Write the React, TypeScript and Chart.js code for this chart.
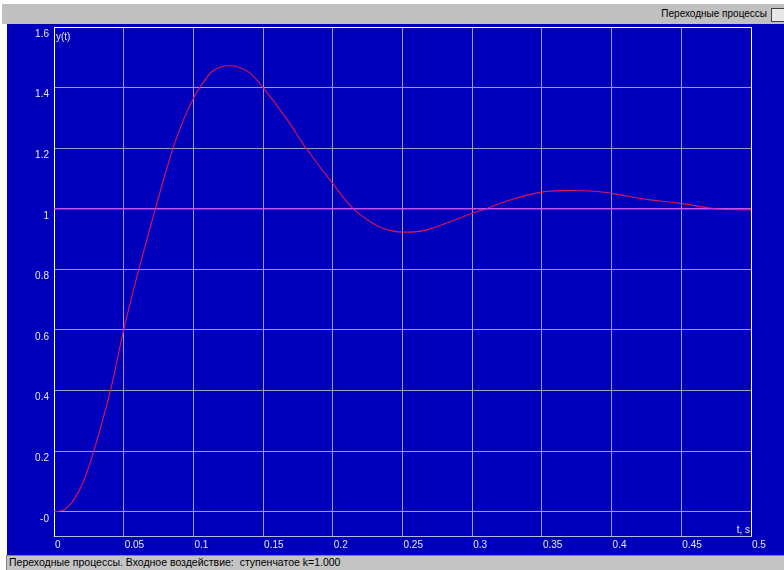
import React, { useEffect, useRef } from "react";
import { Chart, registerables } from "chart.js";

Chart.register(...registerables);

// Transient response y(t)
const tValues = [0, 0.005, 0.01, 0.015, 0.0214, 0.0285, 0.035, 0.041, 0.05, 0.06, 0.0727, 0.0854, 0.0935, 0.1006, 0.1075, 0.1133, 0.12, 0.1264, 0.132, 0.14, 0.15, 0.167, 0.181, 0.2, 0.2148, 0.2315, 0.2425, 0.2525, 0.265, 0.284, 0.3, 0.31, 0.325, 0.35, 0.368, 0.387, 0.4, 0.425, 0.45, 0.475, 0.5];
const yValues = [0, 0.003, 0.016, 0.045, 0.103, 0.2, 0.305, 0.41, 0.6, 0.785, 1.0, 1.2, 1.3, 1.37, 1.42, 1.453, 1.469, 1.472, 1.468, 1.45, 1.4, 1.296, 1.199, 1.083, 1.0, 0.945, 0.927, 0.923, 0.928, 0.957, 0.985, 1.0, 1.026, 1.055, 1.06, 1.058, 1.051, 1.031, 1.018, 1.0, 0.996];

// Reference (input step) level
const refT = [0, 0.5];
const refY = [1, 1];

const xTicks = [0, 0.05, 0.1, 0.15, 0.2, 0.25, 0.3, 0.35, 0.4, 0.45, 0.5];
const xTickLabels = ["0", "0.05", "0.1", "0.15", "0.2", "0.25", "0.3", "0.35", "0.4", "0.45", "0.5"];
const yTicks = [0, 0.2, 0.4, 0.6, 0.8, 1, 1.2, 1.4, 1.6];
const yTickLabels = ["-0", "0.2", "0.4", "0.6", "0.8", "1", "1.2", "1.4", "1.6"];

const headerTitle = "Переходные процессы";
const statusText = "Переходные процессы. Входное воздействие:  ступенчатое k=1.000";
const yAxisTitle = "y(t)";
const xAxisTitle = "t, s";

const BLUE = "#0000bc";
const GRID = "#9c9cd0";
const FONT = "10px 'Liberation Sans', Arial, sans-serif";

const labelPlugin = {
  id: "labels",
  afterDraw(chart: any) {
    const ctx = chart.ctx;
    const xs = chart.scales.x;
    const ys = chart.scales.y;
    const area = chart.chartArea;
    ctx.save();
    ctx.font = FONT;
    ctx.fillStyle = "#e8e8f0";
    ctx.textAlign = "right";
    ctx.textBaseline = "top";
    yTicks.forEach((v, i) => {
      const py = ys.getPixelForValue(v);
      ctx.fillText(yTickLabels[i], area.left - 5, py + 2);
    });
    ctx.textAlign = "left";
    xTicks.forEach((v, i) => {
      const px = xs.getPixelForValue(v);
      ctx.fillText(xTickLabels[i], px + 1, area.bottom + 4);
    });
    ctx.textAlign = "right";
    ctx.textBaseline = "bottom";
    ctx.fillText(xAxisTitle, area.right - 1, area.bottom - 1);
    ctx.textAlign = "left";
    ctx.textBaseline = "top";
    ctx.fillText(yAxisTitle, area.left + 2, area.top + 5);
    ctx.restore();
  },
};

export default function App() {
  const ref = useRef<HTMLCanvasElement | null>(null);

  useEffect(() => {
    if (!ref.current) return;
    const chart = new Chart(ref.current, {
      type: "line",
      data: {
        datasets: [
          {
            data: refT.map((t, i) => ({ x: t, y: refY[i] })),
            borderColor: "#c83cff",
            borderWidth: 1.2,
            pointRadius: 0,
            order: 0,
          },
          {
            data: tValues.map((t, i) => ({ x: t, y: yValues[i] })),
            borderColor: "#e01450",
            borderWidth: 1.1,
            pointRadius: 0,
            tension: 0.4,
            order: 1,
          },
        ],
      },
      options: {
        animation: false,
        responsive: false,
        devicePixelRatio: 1,
        layout: { padding: { left: 0, top: 3, right: 33, bottom: 0 } },
        plugins: { legend: { display: false }, tooltip: { enabled: false } },
        scales: {
          x: {
            type: "linear",
            min: 0,
            max: 0.5,
            afterBuildTicks: (s: any) => {
              s.ticks = xTicks.map((v) => ({ value: v }));
            },
            afterFit: (s: any) => {
              s.height = 19;
            },
            ticks: { display: false },
            grid: {
              drawTicks: false,
              tickLength: 0,
              color: (c: any) => (c.tick && (c.tick.value === 0 || c.tick.value === 0.5) ? "#ffffff" : GRID),
              lineWidth: 1,
            },
            border: { display: true, color: "#b8b8dc", width: 1 },
          },
          y: {
            type: "linear",
            min: -0.08,
            max: 1.6,
            afterBuildTicks: (s: any) => {
              s.ticks = yTicks.map((v) => ({ value: v }));
            },
            afterFit: (s: any) => {
              s.width = 47;
            },
            ticks: { display: false },
            grid: {
              drawTicks: false,
              tickLength: 0,
              color: (c: any) => (c.tick && c.tick.value === 1.6 ? "#ffffff" : GRID),
              lineWidth: 1,
            },
            border: { display: true, color: "#ffffff", width: 1 },
          },
        },
      },
      plugins: [labelPlugin],
    } as any);
    return () => chart.destroy();
  }, []);

  return (
    <div style={{ position: "fixed", left: 0, top: 0, width: 784, height: 570, background: "#ffffff", overflow: "hidden", fontFamily: "'Liberation Sans', Arial, sans-serif" }}>
      <div style={{ position: "absolute", left: 2, top: 4, width: 782, height: 20, background: "#c0c0c0" }}>
        <div style={{ position: "absolute", right: 17, top: 4, fontSize: 10, color: "#000", whiteSpace: "nowrap" }}>{headerTitle}</div>
        <div style={{ position: "absolute", left: 769, top: 4, width: 16, height: 14, background: "#e8e8e8", border: "1px solid #404040", boxSizing: "border-box" }} />
      </div>
      <div style={{ position: "absolute", left: 7, top: 24, width: 777, height: 531, background: BLUE }}>
        <canvas ref={ref} width={777} height={531} style={{ display: "block", width: 777, height: 531 }} />
      </div>
      <div style={{ position: "absolute", left: 6, top: 555, width: 778, height: 15, background: "#c4c4c4", borderTop: "1px solid #808080", borderLeft: "1px solid #808080", boxSizing: "border-box" }}>
        <div style={{ position: "absolute", left: 2, top: 0, fontSize: 10.5, color: "#000", whiteSpace: "pre" }}>{statusText}</div>
      </div>
    </div>
  );
}
